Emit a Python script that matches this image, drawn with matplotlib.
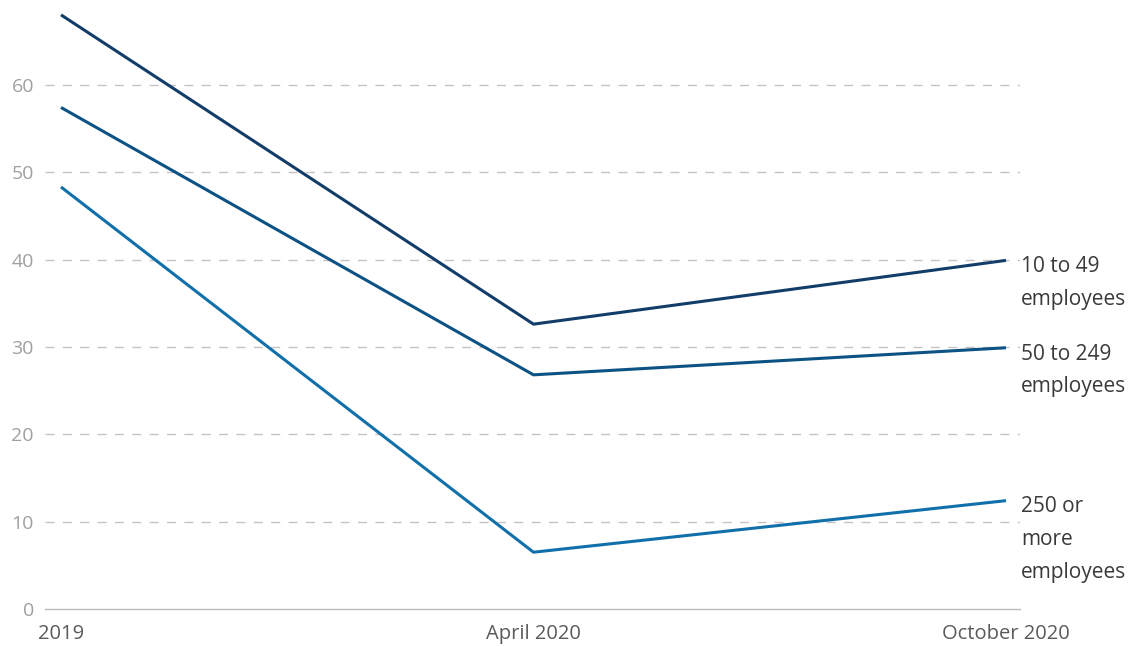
import matplotlib
matplotlib.use("Agg")
import matplotlib.pyplot as plt

periods = ["2019", "April 2020", "October 2020"]
series_names = ["10 to 49\nemployees", "50 to 249\nemployees", "250 or\nmore\nemployees"]
small = [68.0, 32.6, 39.9]
medium = [57.4, 26.8, 29.9]
large = [48.3, 6.5, 12.4]
yticks = [0, 10, 20, 30, 40, 50, 60]

colors = ["#123d69", "#0c5284", "#1170aa"]

plt.rcParams['font.family'] = ['Open Sans', 'DejaVu Sans']

W, H = 1139, 646
fig = plt.figure(figsize=(W / 100, H / 100), dpi=100)
ax = fig.add_axes([45 / W, 37 / H, (1020 - 45) / W, (609 - 0) / H])

x = list(range(len(periods)))
for vals, c, name in zip([small, medium, large], colors, series_names):
    ax.plot(x, vals, color=c, lw=2.2, solid_capstyle='butt', clip_on=False, zorder=3)
    ax.annotate(name, xy=(x[-1], vals[-1]), xytext=(11, 3), textcoords='offset points',
                ha='left', va='top', fontsize=15, color='#3a3a3a', linespacing=1.72,
                annotation_clip=False)

px_per_x = (1006 - 61) / 2
ax.set_xlim(0 - 16 / px_per_x, 2 + 14 / px_per_x)
ax.set_ylim(0, 69.7)

ax.set_yticks(yticks)
ax.set_yticklabels([str(v) for v in yticks])
ax.set_xticks(x)
ax.set_xticklabels(periods)
ax.tick_params(axis='y', length=0, pad=8, labelsize=14, labelcolor='#a0a0a0')
ax.tick_params(axis='x', length=0, pad=11, labelsize=14.5, labelcolor='#5a5a5a')

for v in yticks[1:]:
    ax.axhline(v, color='#c4c4c4', lw=1, linestyle=(0, (6.5, 6)), zorder=1)

for s in ['top', 'right', 'left']:
    ax.spines[s].set_visible(False)
ax.spines['bottom'].set_color('#bbbbbb')
ax.spines['bottom'].set_linewidth(1)

fig.savefig("out.png", dpi=100)
